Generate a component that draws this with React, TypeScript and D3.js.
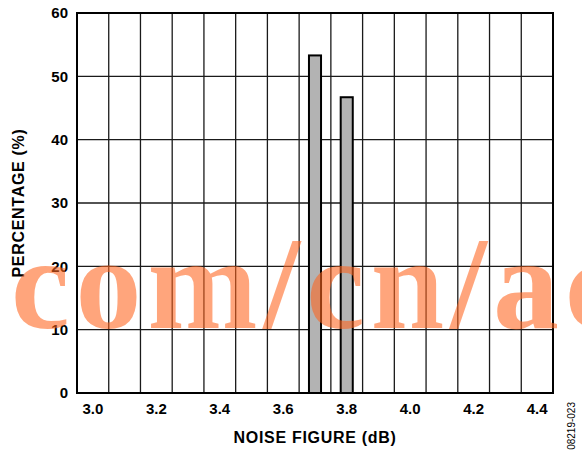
import React from 'react';
import * as d3 from 'd3';

// histogram bins (dB) and percentage of units in each bin
const bins = ['3.0', '3.1', '3.2', '3.3', '3.4', '3.5', '3.6', '3.7', '3.8', '3.9', '4.0', '4.1', '4.2', '4.3', '4.4'];
const percentages = [0, 0, 0, 0, 0, 0, 0, 53.3, 46.7, 0, 0, 0, 0, 0, 0];
const xTickLabels = ['3.0', '3.2', '3.4', '3.6', '3.8', '4.0', '4.2', '4.4'];
const yTicks = [0, 10, 20, 30, 40, 50, 60];

const width = 582;
const height = 452;
const margin = { top: 13, right: 29, bottom: 59, left: 77 };
const font = 'Arial, "Liberation Sans", Helvetica, sans-serif';

const App: React.FC = () => {
  const innerW = width - margin.left - margin.right;
  const innerH = height - margin.top - margin.bottom;

  const x = d3.scaleBand<string>().domain(bins).range([0, innerW]).padding(0);
  const y = d3.scaleLinear().domain([0, 60]).range([innerH, 0]);
  const barW = x.bandwidth() * 0.38;

  return (
    <svg width={width} height={height} style={{ position: 'absolute', left: 0, top: 0 }}>
      <g transform={`translate(${margin.left},${margin.top})`}>
        {/* vertical grid at bin edges */}
        {bins.slice(1).map(b => (
          <line key={'v' + b} x1={x(b)!} x2={x(b)!} y1={0} y2={innerH} stroke="#1a1a1a" strokeWidth={1.3} />
        ))}
        {/* horizontal grid */}
        {yTicks.slice(1, -1).map(t => (
          <line key={'h' + t} x1={0} x2={innerW} y1={y(t)} y2={y(t)} stroke="#1a1a1a" strokeWidth={1.3} />
        ))}

        {bins.map((b, i) => percentages[i] > 0 ? (
          <rect
            key={'bar' + b}
            x={x(b)! + x.bandwidth() / 2 - barW / 2}
            y={y(percentages[i])}
            width={barW}
            height={innerH - y(percentages[i])}
            fill="#b3b3b3"
            stroke="#000"
            strokeWidth={2}
          />
        ) : null)}

        <rect x={0} y={0} width={innerW} height={innerH} fill="none" stroke="#000" strokeWidth={2} />

        {yTicks.map(t => (
          <text key={'yl' + t} x={-9} y={y(t)} dy="0.36em" textAnchor="end"
            fontFamily={font} fontWeight="bold" fontSize={15} fill="#000">{t}</text>
        ))}
        {xTickLabels.map(l => (
          <text key={'xl' + l} x={x(l)! + x.bandwidth() / 2} y={innerH + 21} textAnchor="middle"
            fontFamily={font} fontWeight="bold" fontSize={15} fill="#000">{l}</text>
        ))}

        <text x={innerW / 2} y={innerH + 50} textAnchor="middle" letterSpacing={0.7}
          fontFamily={font} fontWeight="bold" fontSize={16} fill="#000">NOISE FIGURE (dB)</text>
        <text transform={`translate(${-53},${innerH / 2}) rotate(-90)`} textAnchor="middle" letterSpacing={0.7}
          fontFamily={font} fontWeight="bold" fontSize={16} fill="#000">PERCENTAGE (%)</text>
      </g>

      <text transform="translate(575,402) rotate(-90)" textAnchor="end"
        fontFamily={font} fontSize={10} fill="#000">08219-023</text>

      {/* watermark */}
      <text x={-28} y={328} fontFamily='"Liberation Serif", "DejaVu Serif", serif' fontWeight="bold" fontSize={132}
        letterSpacing={6} fill="rgb(255,100,30)" fillOpacity={0.58}>.com/cn/ac</text>
    </svg>
  );
};

export default App;
